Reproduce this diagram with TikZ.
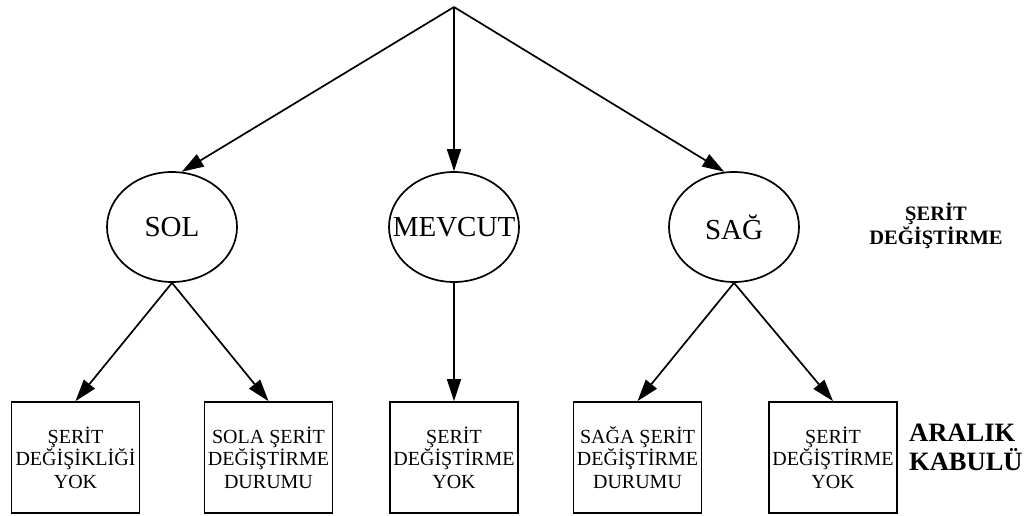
\documentclass[tikz,border=0pt]{standalone}
\usepackage{fontspec}
\setmainfont{Liberation Serif}
\usetikzlibrary{arrows.meta,shapes.geometric}
\begin{document}
\begin{tikzpicture}[x=1pt,y=-1pt,
  line width=1.7pt,
  conn/.style={-{Triangle[length=22pt,width=14pt]}},
  choice/.style={draw,ellipse,inner sep=0pt,minimum width=130pt,minimum height=110pt},
  choicetext/.style={font=\fontsize{29}{32}\selectfont},
  outcome/.style={draw,rectangle,inner sep=0pt,minimum width=128pt,minimum height=111pt,
    align=center,font=\fontsize{20}{22.5}\selectfont},
  levellabel/.style={font=\bfseries\fontsize{20.5}{24}\selectfont,align=center},
  rangelabel/.style={font=\bfseries\fontsize{26.5}{29}\selectfont,align=left,anchor=west}]
\useasboundingbox (0,0) rectangle (1032,515);

% root of the decision tree
\coordinate (root) at (454,7);

% lane change choices
\node[choice,label={[choicetext]center:SOL}] (sol) at (172,227) {};
\node[choice,label={[choicetext]center:MEVCUT}] (mev) at (454,227) {};
\node[choice,label={[choicetext]center:SAĞ}] (sag) at (734,227) {};

% gap acceptance outcomes
\node[outcome] (b1) at (75.5,457.5) {ŞERİT\\DEĞİŞİKLİĞİ\\YOK};
\node[outcome] (b2) at (268.5,457.5) {SOLA ŞERİT\\DEĞİŞTİRME\\DURUMU};
\node[outcome] (b3) at (454,457.5) {ŞERİT\\DEĞİŞTİRME\\YOK};
\node[outcome] (b4) at (637.5,457.5) {SAĞA ŞERİT\\DEĞİŞTİRME\\DURUMU};
\node[outcome] (b5) at (833,457.5) {ŞERİT\\DEĞİŞTİRME\\YOK};

% level labels
\node[levellabel] (lvl1) at (936,226) {ŞERİT\\DEĞİŞTİRME};
\node[rangelabel] (lvl2) at (905,447) {ARALIK\\KABULÜ};

% connectors
\draw[conn] (root) -- (sol.80);
\draw[conn] (root) -- (mev.north);
\draw[conn] (root) -- (sag.100);
\draw[conn] (sol.south) -- (b1.north);
\draw[conn] (sol.south) -- (b2.north);
\draw[conn] (mev.south) -- (b3.north);
\draw[conn] (sag.south) -- (b4.north);
\draw[conn] (sag.south) -- (b5.north);
\end{tikzpicture}
\end{document}
